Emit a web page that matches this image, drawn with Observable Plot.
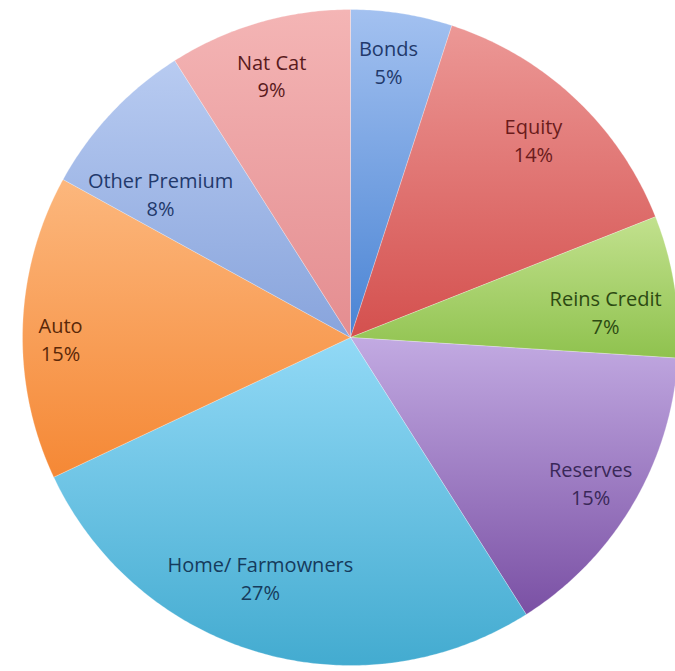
<!DOCTYPE html>
<html>
<head>
<meta charset="utf-8">
<script src="https://cdn.jsdelivr.net/npm/d3@7"></script>
<script src="https://cdn.jsdelivr.net/npm/@observablehq/plot@0.6"></script>
<style>
  html, body { margin: 0; padding: 0; background: #ffffff; }
  #chart { width: 675px; height: 671px; }
</style>
</head>
<body>
<div id="chart"></div>
<script>
// ---- data (clockwise from 12 o'clock) ----
const categories = ["Bonds", "Equity", "Reins Credit", "Reserves", "Home/ Farmowners", "Auto", "Other Premium", "Nat Cat"];
const shares = [5, 14, 7, 15, 27, 15, 8, 9];

// ---- styles ----
const colorTop    = ["#a3c1f0", "#ec9896", "#c2e18e", "#c2aae2", "#92d9f6", "#fcb77d", "#b8cbf1", "#f4b5b5"];
const colorBottom = ["#4a84d4", "#d4504e", "#8fc24e", "#7a50a4", "#43abd0", "#f58835", "#88a4dc", "#e48d90"];
const textColors  = ["#22396b", "#6a1b1b", "#2c4a12", "#3a2858", "#163b5c", "#5a2808", "#22396b", "#5a1a1c"];
// layout: label distance from centre (fraction of radius) and angular nudge (degrees)
const labelRadius = [0.852, 0.824, 0.782, 0.855, 0.781, 0.884, 0.727, 0.837];
const labelNudge  = [-1.2, -0.6, 3.0, 0.5, 4.4, -2.0, -6.0, -0.5];

const W = 675, H = 671, cx = 350, cy = 337, R = 328;

const pie = d3.pie().sort(null).value(d => d)(shares);

// polygon points in unit coordinates (y up)
const slices = pie.map((p, i) => {
  const pts = [{x: 0, y: 0}];
  const n = Math.max(8, Math.ceil((p.endAngle - p.startAngle) / 0.01));
  for (let k = 0; k <= n; k++) {
    const a = p.startAngle + (p.endAngle - p.startAngle) * k / n;
    pts.push({x: Math.sin(a), y: Math.cos(a)});
  }
  pts.push({x: 0, y: 0});
  return pts;
});

const labels = pie.map((p, i) => {
  const a = (p.startAngle + p.endAngle) / 2 + labelNudge[i] * Math.PI / 180;
  return {
    x: Math.sin(a) * labelRadius[i],
    y: Math.cos(a) * labelRadius[i],
    text: categories[i] + "\n" + shares[i] + "%",
    color: textColors[i]
  };
});

const chart = Plot.plot({
  width: W,
  height: H,
  margin: 0,
  x: {domain: [-1, 1], range: [cx - R, cx + R], axis: null},
  y: {domain: [-1, 1], range: [cy + R, cy - R], axis: null},
  color: {type: "identity"},
  style: {background: "transparent"},
  marks: [
    ...slices.map((pts, i) => Plot.line(pts, {
      x: "x", y: "y",
      fill: `url(#grad${i})`,
      stroke: "#ffffff", strokeOpacity: 0.25, strokeWidth: 1
    })),
    Plot.text(labels, {
      x: "x", y: "y", text: "text", fill: "color",
      fontSize: 20, lineHeight: 1.4,
      fontFamily: "'Open Sans', Lato, sans-serif",
      textAnchor: "middle", lineAnchor: "middle"
    })
  ]
});

const svg = d3.select(chart);
const defs = svg.insert("defs", ":first-child");
categories.forEach((c, i) => {
  const g = defs.append("linearGradient")
    .attr("id", `grad${i}`)
    .attr("x1", 0).attr("y1", 0).attr("x2", 0).attr("y2", 1);
  g.append("stop").attr("offset", "0%").attr("stop-color", colorTop[i]);
  g.append("stop").attr("offset", "100%").attr("stop-color", colorBottom[i]);
});

document.getElementById("chart").appendChild(chart);
</script>
</body>
</html>
